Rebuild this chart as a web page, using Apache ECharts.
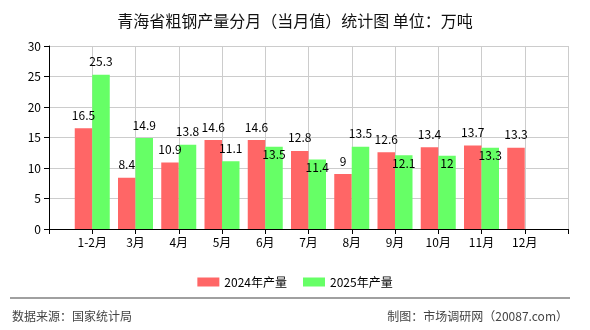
<!DOCTYPE html>
<html>
<head>
<meta charset="utf-8">
<script src="https://cdn.jsdelivr.net/npm/echarts@6/dist/echarts.min.js"></script>
<style>
  html, body { margin: 0; padding: 0; background: #fff; }
  #chart { width: 590px; height: 330px; }
</style>
</head>
<body>
<div id="chart"></div>
<script>
// 月份
const months = ['1-2月', '3月', '4月', '5月', '6月', '7月', '8月', '9月', '10月', '11月', '12月']
// 产量（万吨）
const output2024 = [16.5, 8.4, 10.9, 14.6, 14.6, 12.8, 9, 12.6, 13.4, 13.7, 13.3]
const output2025 = [25.3, 14.9, 13.8, 11.1, 13.5, 11.4, 13.5, 12.1, 12, 13.3]
const seriesNames = ['2024年产量', '2025年产量']

const font = '"Noto Sans CJK SC", sans-serif'

// 首尾留空位，类目居中于刻度
const xData = [''].concat(months, [''])
const pad = arr => ['-'].concat(arr, new Array(xData.length - 1 - arr.length).fill('-'))

// 2025 标签与 2024 标签重叠时下移
const data2025 = pad(output2025).map((v, i) => {
  const r = output2024[i - 1]
  if (v !== '-' && r > v && r - v < 2) {
    return { value: v, label: { offset: [0, 21] } }
  }
  return v
})

const chart = echarts.init(document.getElementById('chart'))
chart.setOption({
  animation: false,
  textStyle: { fontFamily: font },
  title: {
    text: '青海省粗钢产量分月（当月值）统计图 单位：万吨',
    left: 'center',
    top: 8,
    textStyle: { fontSize: 16, fontWeight: 'normal', color: '#111', fontFamily: font }
  },
  legend: {
    data: seriesNames,
    left: 'center',
    top: 271,
    itemWidth: 22,
    itemHeight: 9,
    itemGap: 16,
    icon: 'rect',
    textStyle: { fontSize: 12, color: '#000', fontFamily: font }
  },
  grid: { left: 49, right: 22, top: 46, bottom: 101 },
  xAxis: {
    type: 'category',
    data: xData,
    boundaryGap: false,
    axisLine: { lineStyle: { color: '#000' } },
    axisTick: { show: true, length: 5, lineStyle: { color: '#000' } },
    axisLabel: { color: '#000', fontSize: 12, margin: 7, interval: 0 },
    splitLine: { show: true, lineStyle: { color: '#ccc' } }
  },
  yAxis: {
    type: 'value',
    min: 0,
    max: 30,
    interval: 5,
    axisLine: { show: true, lineStyle: { color: '#000' } },
    axisTick: { show: true, length: 5, lineStyle: { color: '#000' } },
    axisLabel: { color: '#000', fontSize: 12, margin: 8 },
    splitLine: { show: true, lineStyle: { color: '#ccc' } }
  },
  series: [
    {
      name: seriesNames[0],
      type: 'bar',
      data: pad(output2024),
      barWidth: 17.5,
      barGap: 0,
      itemStyle: { color: '#ff6666' },
      label: { show: true, position: 'top', distance: 7, color: '#000', fontSize: 12 }
    },
    {
      name: seriesNames[1],
      type: 'bar',
      data: data2025,
      barWidth: 17.5,
      barGap: 0,
      itemStyle: { color: '#66ff66' },
      label: { show: true, position: 'top', distance: 7, color: '#000', fontSize: 12 }
    }
  ],
  graphic: [
    {
      type: 'line',
      shape: { x1: 10, y1: 298, x2: 570, y2: 298 },
      style: { stroke: '#808080', lineWidth: 1.5 }
    },
    {
      type: 'text',
      left: 12,
      top: 310,
      style: { text: '数据来源：国家统计局', fill: '#444', font: '12px ' + font }
    },
    {
      type: 'text',
      right: 22,
      top: 310,
      style: { text: '制图：市场调研网（20087.com）', fill: '#444', font: '12px ' + font }
    }
  ]
})
</script>
</body>
</html>
